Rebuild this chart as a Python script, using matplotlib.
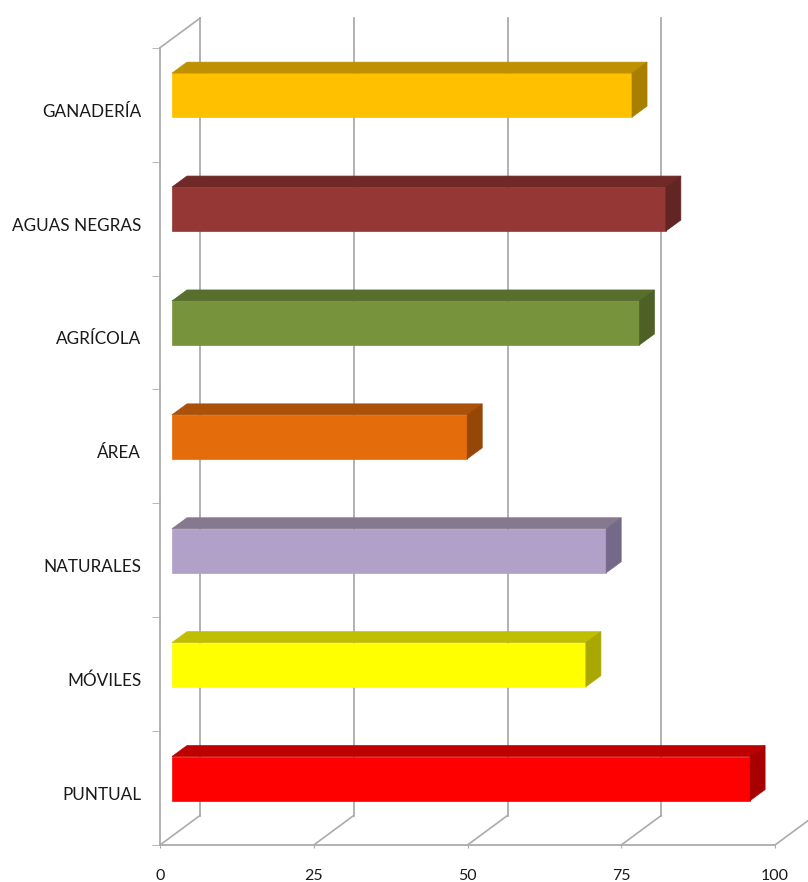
import matplotlib
matplotlib.use("Agg")
import matplotlib.pyplot as plt
from matplotlib.transforms import ScaledTranslation

plt.rcParams['font.family'] = ['Lato', 'DejaVu Sans']

# bottom to top
categorias = ["PUNTUAL", "MÓVILES", "NATURALES", "ÁREA", "AGRÍCOLA", "AGUAS NEGRAS", "GANADERÍA"]
valores = [94, 67.3, 70.6, 48, 76, 80.3, 74.8]
caras = ["#FF0000", "#FFFF00", "#B1A0C7", "#E46C0A", "#77933C", "#953735", "#FFC000"]
sombras = ["#BF0000", "#BFBF00", "#85788F", "#AB5108", "#586E2D", "#6F2A28", "#BF9000"]
lados = ["#A80000", "#A8A800", "#75698A", "#964707", "#4D6127", "#622523", "#A87F00"]
ticks_x = [0, 25, 50, 75, 100]

fig = plt.figure(figsize=(8.08, 8.82), dpi=100)
W, H = 808, 882
ax = fig.add_axes([160 / W, (H - 845) / H, 615 / W, 797.3 / H])
ax.set_xlim(0, 100)
ax.set_ylim(0, len(categorias))
ax.patch.set_alpha(0)

# pixels per data unit
px_x = 615 / 100
px_y = 797.3 / len(categorias)


def sx(px):
    return px / px_x


def sy(px):
    return px / px_y


# depth of the 3d box
prof_x, prof_y = sx(40), sy(29.5)

gris = "#ABABAB"
for t in ticks_x:
    # floor diagonal + back wall line
    ax.plot([t, t + prof_x], [0, prof_y], color=gris, lw=1.2, clip_on=False, zorder=1)
    ax.plot([t + prof_x, t + prof_x], [prof_y, len(categorias) + prof_y], color=gris, lw=1.3, clip_on=False, zorder=1)
# left wall top
ax.plot([0, prof_x], [len(categorias), len(categorias) + prof_y], color=gris, lw=1.2, clip_on=False, zorder=1)

# bars: front face, top face, side face
inicio_x, sube_y = sx(12), sy(9.5)
alto = sy(44)
fondo_x, fondo_y = sx(15), sy(11)
for i, v in enumerate(valores):
    y0 = i + 0.5 + sube_y - alto / 2
    y1 = y0 + alto
    x0 = inicio_x
    x1 = inicio_x + v
    ax.fill([x0, x1, x1, x0], [y0, y0, y1, y1], color=caras[i], lw=0.5, clip_on=False, zorder=3)
    ax.fill([x0, x0 + fondo_x, x1 + fondo_x, x1], [y1, y1 + fondo_y, y1 + fondo_y, y1],
            color=sombras[i], lw=0.5, clip_on=False, zorder=3)
    ax.fill([x1, x1 + fondo_x, x1 + fondo_x, x1], [y0, y0 + fondo_y, y1 + fondo_y, y1],
            color=lados[i], lw=0.5, clip_on=False, zorder=3)

for s in ["top", "right"]:
    ax.spines[s].set_visible(False)
for s in ["left", "bottom"]:
    ax.spines[s].set_color(gris)
    ax.spines[s].set_linewidth(1.3)

ax.set_xticks(ticks_x)
ax.set_xticklabels([str(t) for t in ticks_x], fontsize=11.5, color="#1A1A1A")
ax.tick_params(axis="x", length=2.5, color=gris, pad=15)

ax.set_yticks(range(len(categorias) + 1), minor=True)
ax.tick_params(axis="y", which="minor", length=6, color=gris)
ax.set_yticks([i + 0.5 for i in range(len(categorias))])
ax.set_yticklabels(categorias, fontsize=12.3, color="#1A1A1A")
ax.tick_params(axis="y", which="major", length=0, pad=13.5)
desplaza = ScaledTranslation(0, -5.5 / 100, fig.dpi_scale_trans)
for etiqueta in ax.get_yticklabels():
    etiqueta.set_transform(etiqueta.get_transform() + desplaza)

fig.savefig("out.png", dpi=100)
